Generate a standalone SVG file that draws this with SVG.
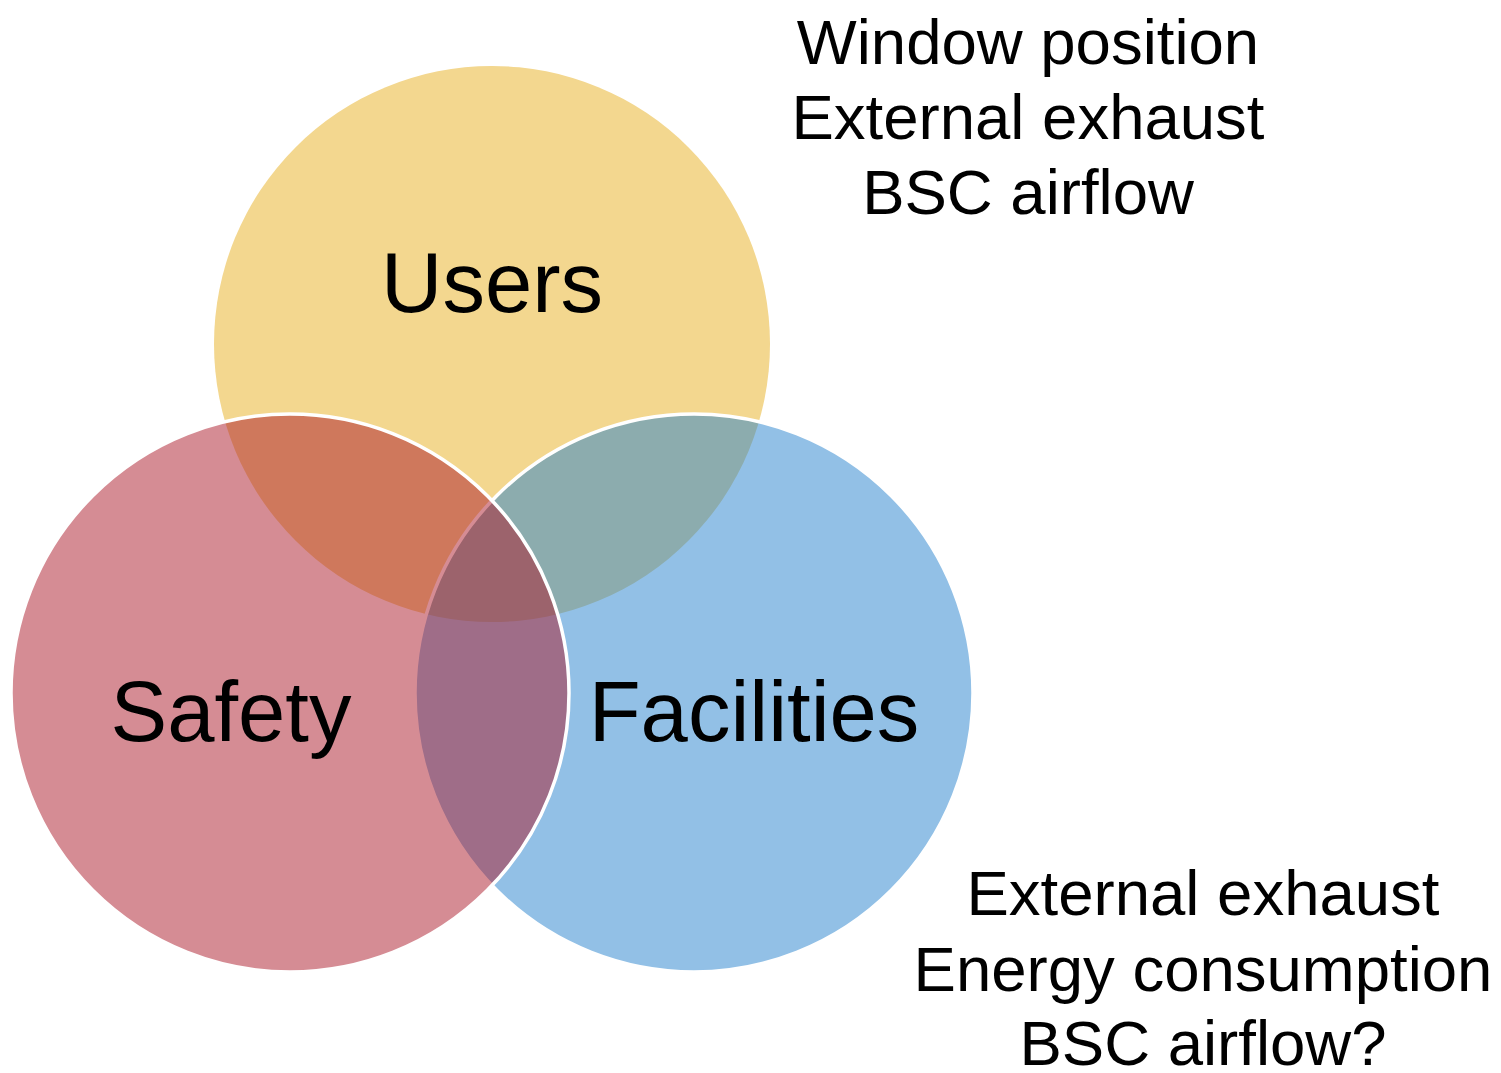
<svg xmlns="http://www.w3.org/2000/svg" width="1501" height="1073" viewBox="0 0 1501 1073">
  <style>
    .label { font-family: "Liberation Sans", Arial, sans-serif; fill: #000; text-anchor: middle; }
    .big { font-size: 85px; }
    .note { font-size: 63.5px; }
    .ring { stroke: #fff; stroke-width: 3.5; fill-opacity: 0.5; }
  </style>
  <rect width="1501" height="1073" fill="#fff"/>

  <!-- Users: opaque base circle -->
  <g id="users">
    <circle cx="492" cy="344" r="278" fill="#F3D78F"/>
  </g>

  <!-- Facilities: half-transparent over Users -->
  <g id="facilities">
    <circle class="ring" cx="694" cy="693" r="279" fill="#2581CD"/>
  </g>

  <!-- Safety: half-transparent on top -->
  <g id="safety">
    <circle class="ring" cx="290" cy="693" r="279" fill="#AB1929"/>
  </g>

  <!-- circle labels -->
  <g id="users-label">
    <text class="label big" x="492" y="312">Users</text>
  </g>
  <g id="safety-label">
    <text class="label big" x="231" y="741">Safety</text>
  </g>
  <g id="facilities-label">
    <text class="label big" x="754" y="741">Facilities</text>
  </g>

  <!-- side notes -->
  <g id="users-notes">
    <text class="label note" x="1028" y="64">Window position</text>
    <text class="label note" x="1028" y="139">External exhaust</text>
    <text class="label note" x="1028" y="214">BSC airflow</text>
  </g>
  <g id="facilities-notes">
    <text class="label note" x="1203" y="915">External exhaust</text>
    <text class="label note" x="1203" y="991">Energy consumption</text>
    <text class="label note" x="1203" y="1065">BSC airflow?</text>
  </g>

  <g id="connectors"/>
</svg>
